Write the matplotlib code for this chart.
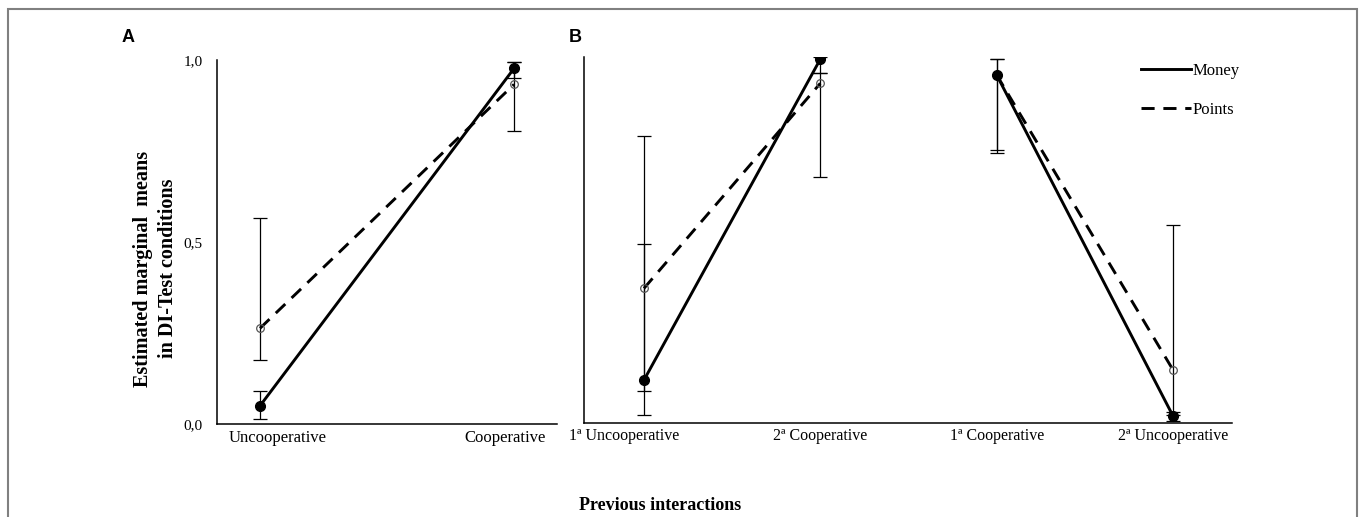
import matplotlib
matplotlib.use("Agg")
import matplotlib.pyplot as plt
from matplotlib.patches import Rectangle
from matplotlib.lines import Line2D
from matplotlib.transforms import ScaledTranslation

# ---------------- data ----------------
cats_a = ["Uncooperative", "Cooperative"]
money_a = [0.05, 0.977]
money_a_lo = [0.013, 0.95]
money_a_hi = [0.09, 0.994]
points_a = [0.263, 0.933]
points_a_lo = [0.176, 0.805]
points_a_hi = [0.567, 0.994]

cats_b = ["1ª Uncooperative", "2ª Cooperative", "1ª Cooperative", "2ª Uncooperative"]
money_b = [0.116, 0.994, 0.951, 0.018]
money_b_lo = [0.020, 0.955, 0.745, 0.005]
money_b_hi = [0.488, 1.0, 0.994, 0.030]
points_b = [0.367, 0.928, 0.951, 0.144]
points_b_lo = [0.087, 0.671, 0.736, 0.020]
points_b_hi = [0.785, 0.955, 0.994, 0.540]

yticks = [0.0, 0.5, 1.0]
ytick_labels = ["0,0", "0,5", "1,0"]

SERIF = "Liberation Serif"
SANS = "Liberation Sans"

fig = plt.figure(figsize=(13.6, 5.17), dpi=100)
W, H = 1360, 517

def fx(px):
    return px / W

def fy(py):
    return (H - py) / H

axA = fig.add_axes([fx(216.7), fy(424), fx(557) - fx(216.7), fy(60) - fy(424)])
axB = fig.add_axes([fx(584), fy(422.5), fx(1231.7) - fx(584), fy(57) - fy(422.5)])

LW = 2.1
DASH = (4.5, 3)

def draw(ax, xs, vals, lo, hi, style, segments):
    yerr = [[v - l for v, l in zip(vals, lo)], [h - v for v, h in zip(vals, hi)]]
    ax.errorbar(xs, vals, yerr=yerr, fmt="none", ecolor="black", elinewidth=0.9,
                capsize=5, capthick=0.9, zorder=2)
    for (i0, i1) in segments:
        sx = xs[i0:i1 + 1]
        sv = vals[i0:i1 + 1]
        if style == "money":
            ax.plot(sx, sv, color="black", lw=LW, solid_capstyle="round", zorder=3)
        else:
            ax.plot(sx, sv, color="black", lw=LW, dashes=DASH, zorder=3)
    if style == "money":
        ax.plot(xs, vals, "o", color="black", ms=7, zorder=4, ls="none")
    else:
        ax.plot(xs, vals, "o", mfc="none", mec="#555555", mew=0.9, ms=5.5, zorder=4, ls="none")

xa = list(range(len(cats_a)))
xb = list(range(len(cats_b)))

draw(axA, xa, points_a, points_a_lo, points_a_hi, "points", [(0, 1)])
draw(axA, xa, money_a, money_a_lo, money_a_hi, "money", [(0, 1)])
draw(axB, xb, points_b, points_b_lo, points_b_hi, "points", [(0, 1), (2, 3)])
draw(axB, xb, money_b, money_b_lo, money_b_hi, "money", [(0, 1), (2, 3)])

for ax in (axA, axB):
    ax.set_ylim(0, 1.0)
    for s in ("top", "right"):
        ax.spines[s].set_visible(False)
    ax.spines["left"].set_linewidth(1.1)
    ax.spines["bottom"].set_linewidth(1.1)
    ax.tick_params(axis="both", length=0)
    ax.set_facecolor("none")

axA.set_xlim(-0.1705, 1.169)
axA.set_xticks(xa)
axA.set_xticklabels(cats_a, fontfamily=SERIF, fontsize=12)
axA.set_yticks(yticks)
axA.set_yticklabels(ytick_labels, fontfamily=SERIF, fontsize=11)
axA.tick_params(axis="y", pad=10)
axA.tick_params(axis="x", pad=4)

axB.set_xlim(-0.34, 3.333)
axB.set_xticks(xb)
axB.set_xticklabels(cats_b, fontfamily=SERIF, fontsize=11.5)
axB.set_yticks([])
axB.tick_params(axis="x", pad=4)

# Excel-like label shifts (in pixels at 100 dpi)
def shift(label, dx_px):
    label.set_transform(label.get_transform() +
                        ScaledTranslation(dx_px / 100.0, 0, fig.dpi_scale_trans))

labsA = axA.get_xticklabels()
shift(labsA[0], 18)
shift(labsA[1], -9)
labsB = axB.get_xticklabels()
shift(labsB[0], -20)

handles = [Line2D([0], [0], color="black", lw=LW),
           Line2D([0], [0], color="black", lw=LW, dashes=DASH)]
fig.legend(handles, ["Money", "Points"], loc="upper left",
           bbox_to_anchor=(fx(1141), fy(63)), bbox_transform=fig.transFigure,
           frameon=False, handlelength=3.0, handletextpad=0.1, labelspacing=1.4,
           borderpad=0, borderaxespad=0, prop={"family": SERIF, "size": 12})

fig.text(fx(128), fy(37), "A", fontfamily=SANS, fontweight="bold", fontsize=13,
         ha="center", va="center")
fig.text(fx(575), fy(37), "B", fontfamily=SANS, fontweight="bold", fontsize=13,
         ha="center", va="center")

fig.text(fx(155.5), fy(268.5), "Estimated marginal  means\nin DI-Test conditions",
         rotation=90, ha="center", va="center", multialignment="center",
         fontfamily=SERIF, fontweight="bold", fontsize=14.5, linespacing=1.3)
fig.text(fx(660), fy(505), "Previous interactions", ha="center", va="center",
         fontfamily=SERIF, fontweight="bold", fontsize=13)

fig.patches.append(Rectangle((fx(8), -0.2), fx(1357) - fx(8), fy(9) + 0.2,
                             transform=fig.transFigure, fill=False,
                             edgecolor="#808080", lw=1.5, zorder=0))

fig.savefig("out.png", dpi=100)
